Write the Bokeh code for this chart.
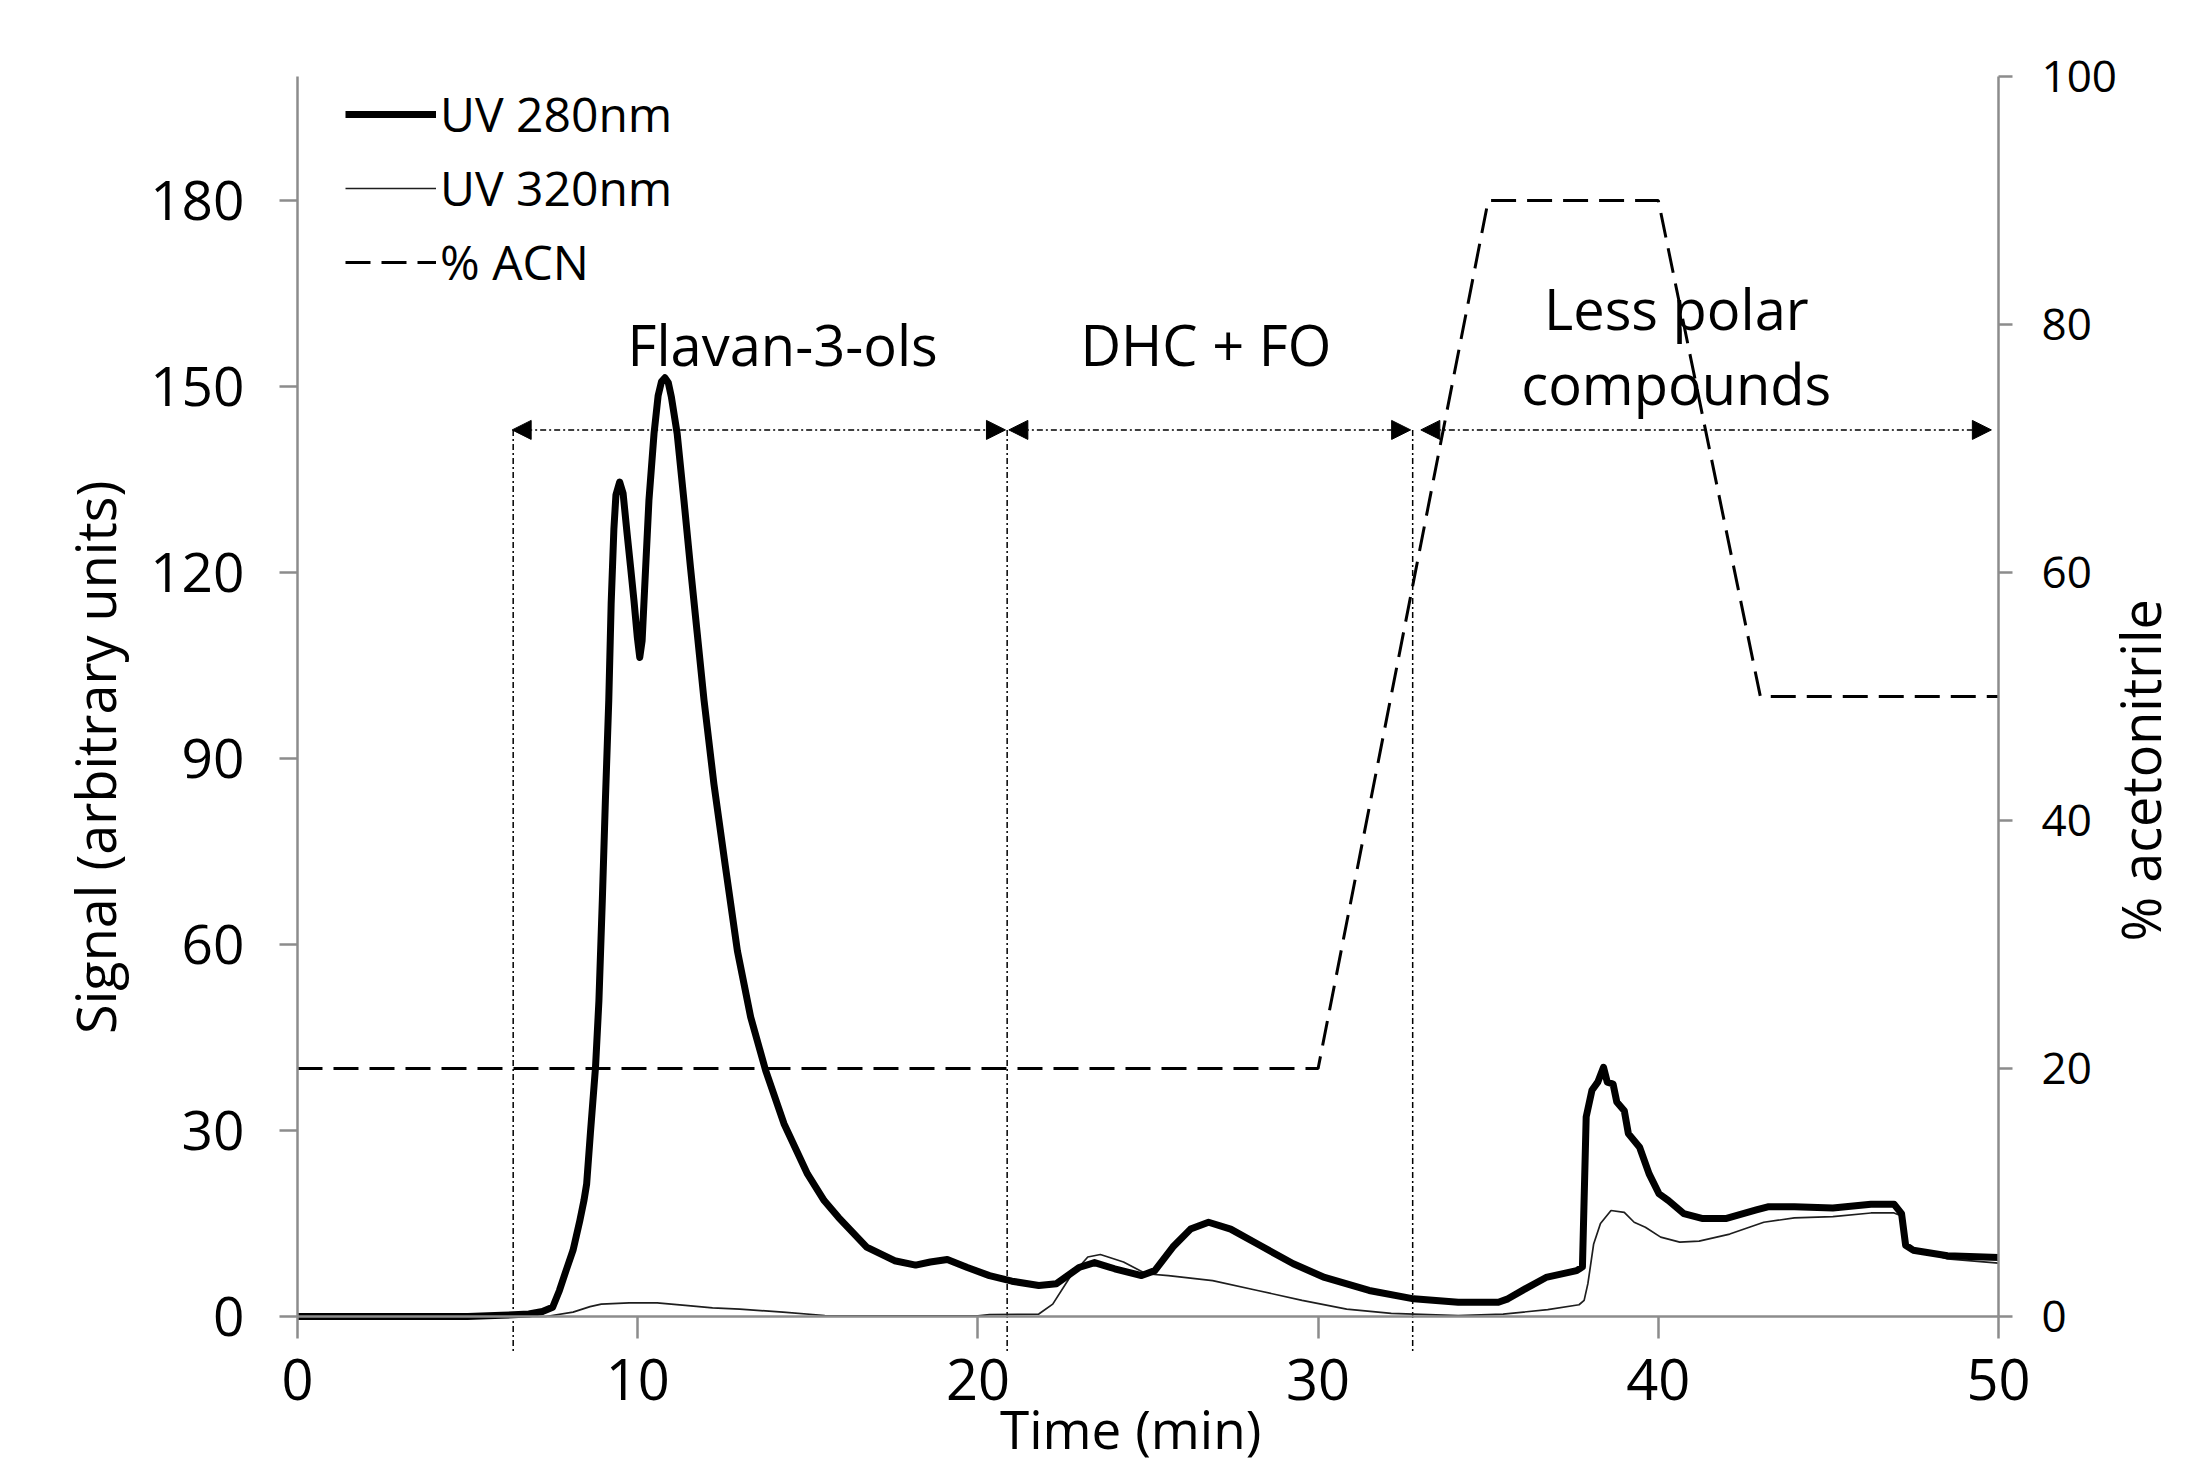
import math
from bokeh.plotting import figure
from bokeh.models import (Range1d, LinearAxis, FixedTicker, Label, Legend,
                          LegendItem, Arrow, NormalHead)
from bokeh.embed import file_html
from bokeh.resources import INLINE

# ---------------- data ----------------
t_280 = [0.0, 5.0, 6.0, 6.8, 7.2, 7.5, 7.7, 7.9, 8.1, 8.3, 8.42, 8.5, 8.61, 8.76, 8.86,
         8.96, 9.05, 9.15, 9.22, 9.30, 9.36, 9.47, 9.57, 9.69, 9.79, 9.89, 9.99, 10.06,
         10.13, 10.2, 10.33, 10.48, 10.6, 10.7, 10.8, 10.9, 10.99, 11.16, 11.36, 11.55,
         11.75, 11.95, 12.24, 12.58, 12.93, 13.32, 13.76, 14.3, 14.99, 15.48, 15.9,
         16.73, 17.55, 18.17, 18.6, 19.1, 19.69, 20.34, 21.0, 21.79, 22.31, 22.97,
         23.43, 24.02, 24.81, 25.2, 25.73, 26.25, 26.78, 27.43, 28.22, 29.27, 30.19,
         31.5, 32.81, 34.12, 35.3, 35.58, 36.1, 36.7, 37.6, 37.77, 37.88, 38.05, 38.22,
         38.39, 38.5, 38.67, 38.78, 39.0, 39.12, 39.45, 39.73, 40.02, 40.3, 40.75,
         41.31, 41.98, 42.88, 43.22, 44.0, 45.13, 46.25, 46.93, 47.15, 47.27, 47.49,
         48.5, 50.0]
uv_280 = [0.0, 0.0, 0.2, 0.4, 0.8, 1.5, 4.2, 7.5, 10.7, 15.5, 18.7, 21.4, 29.6, 40.2, 50.9,
          67.1, 83.2, 99.4, 115.0, 127.0, 132.5, 134.6, 132.8, 126.2, 120.9, 115.5, 109.5,
          106.3, 109.0, 117.0, 131.6, 142.4, 148.5, 150.8, 151.4, 150.6, 148.3, 142.4,
          131.6, 120.9, 110.2, 99.4, 85.9, 72.5, 59.0, 48.3, 39.7, 31.1, 23.0, 18.7,
          16.0, 11.2, 9.0, 8.3, 8.8, 9.2, 7.9, 6.6, 5.7, 5.0, 5.3, 7.9,
          8.7, 7.7, 6.6, 7.4, 11.2, 14.1, 15.2, 14.1, 11.7, 8.5, 6.3,
          4.2, 2.85, 2.3, 2.3, 2.85, 4.5, 6.3, 7.4, 8.0, 32.2, 36.5, 37.8,
          40.2, 37.8, 37.5, 34.6, 33.2, 29.5, 27.3, 23.0, 19.8, 18.7, 16.6,
          15.8, 15.8, 17.2, 17.7, 17.7, 17.5, 18.1, 18.1, 16.6, 11.5, 10.7,
          9.8, 9.5]

t_320 = [0.0, 7.3, 8.1, 8.6, 8.93, 9.75, 10.57, 11.4, 12.2, 13.0, 14.27, 15.5, 20.0,
         20.34, 21.79, 22.2, 22.7, 23.23, 23.6, 24.28, 24.94, 25.6, 26.9, 28.22, 29.53,
         30.84, 32.15, 34.12, 35.44, 36.75, 37.67, 37.82, 37.93, 38.1, 38.3, 38.61,
         39.0, 39.29, 39.62, 40.07, 40.63, 41.2, 42.1, 43.1, 44.0, 45.13, 46.25, 46.93,
         47.15, 47.3, 48.5, 50.0]
uv_320 = [0.0, 0.0, 0.7, 1.6, 2.0, 2.2, 2.2, 1.8, 1.4, 1.2, 0.7, 0.16, 0.1,
          0.3, 0.4, 2.0, 6.3, 9.6, 10.0, 8.8, 6.9, 6.6, 5.8, 4.2, 2.6,
          1.2, 0.5, 0.15, 0.4, 1.1, 1.9, 2.6, 5.3, 11.7, 15.0, 17.1,
          16.8, 15.2, 14.4, 12.8, 12.0, 12.15, 13.3, 15.2, 15.9, 16.1, 16.7, 16.7,
          16.2, 11.3, 9.3, 8.6]

acn_time = [0, 30, 35, 40, 43, 50]
acn_pct = [20, 20, 90, 90, 50, 50]

x_ticks = [0, 10, 20, 30, 40, 50]
y_ticks = [0, 30, 60, 90, 120, 150, 180]
acn_ticks = [0, 20, 40, 60, 80, 100]

# fraction regions (annotation arrows)
region_lines = [6.34, 20.86, 32.78]
region_line_bottom = -6
arrow_starts = [6.31, 20.91, 33.02]
arrow_ends = [20.81, 32.72, 49.79]
arrow_level = 143
region_names = ["Flavan-3-ols", "DHC + FO"]
region_name_x = [14.26, 26.7]
region_name_y = [156.8, 156.8]
less_polar_lines = ["Less polar", "compounds"]
less_polar_x = 40.53
less_polar_y = [162.6, 150.6]

X_AXIS = (0, 50)
Y_AXIS = (0, 200)
ACN_AXIS = (0, 100)
# visible window (axes are drawn at fixed data locations inside it)
X_VIEW = (-8.73, 55.673)
Y_VIEW = (-24.03, 212.26)
ACN_VIEW = (-12.015, 106.13)

FONT = "Open Sans"
GRAY = "#8c8c8c"

p = figure(width=2191, height=1465, x_range=Range1d(*X_VIEW), y_range=Range1d(*Y_VIEW),
           output_backend="svg", toolbar_location=None,
           min_border_left=0, min_border_right=0, min_border_top=0, min_border_bottom=0)
p.extra_y_ranges = {"acn": Range1d(*ACN_VIEW)}
p.outline_line_color = None
p.xgrid.visible = False
p.ygrid.visible = False
p.background_fill_color = "white"
p.border_fill_color = "white"

# bottom axis (time), drawn at signal = 0
xa = p.xaxis[0]
xa.fixed_location = 0
xa.bounds = X_AXIS
xa.ticker = FixedTicker(ticks=x_ticks)
xa.axis_line_color = GRAY
xa.axis_line_width = 2.5
xa.major_tick_in = 0
xa.major_tick_out = 22
xa.major_tick_line_color = GRAY
xa.major_tick_line_width = 2.5
xa.minor_tick_line_color = None
xa.major_label_text_font = FONT
xa.major_label_text_font_size = "56px"
xa.major_label_text_color = "black"
xa.major_label_standoff = 20

# left axis (signal), drawn at time = 0
ya = p.yaxis[0]
ya.fixed_location = X_AXIS[0]
ya.ticker = FixedTicker(ticks=y_ticks)
ya.bounds = Y_AXIS
ya.axis_line_color = GRAY
ya.axis_line_width = 2.5
ya.major_tick_in = 0
ya.major_tick_out = 18
ya.major_tick_line_color = GRAY
ya.major_tick_line_width = 2.5
ya.minor_tick_line_color = None
ya.major_label_text_font = FONT
ya.major_label_text_font_size = "55px"
ya.major_label_text_color = "black"
ya.major_label_standoff = 35

# right axis (% acetonitrile), drawn at time = 50
ra = LinearAxis(y_range_name="acn", ticker=FixedTicker(ticks=acn_ticks), bounds=ACN_AXIS,
                fixed_location=X_AXIS[1])
ra.axis_line_color = GRAY
ra.axis_line_width = 2.5
ra.major_tick_in = 0
ra.major_tick_out = 14
ra.major_tick_line_color = GRAY
ra.major_tick_line_width = 2.5
ra.minor_tick_line_color = None
ra.major_label_text_font = FONT
ra.major_label_text_font_size = "44px"
ra.major_label_text_color = "black"
ra.major_label_standoff = 29
p.add_layout(ra, "right")

# region separators
p.segment(x0=region_lines, x1=region_lines, y0=[arrow_level] * len(region_lines),
          y1=[region_line_bottom] * len(region_lines), line_color="black", line_width=1.5,
          line_dash="6 3 2 3")
for xs, xe in zip(arrow_starts, arrow_ends):
    p.add_layout(Arrow(
        start=NormalHead(size=19, fill_color="black", line_color="black", line_width=1),
        end=NormalHead(size=19, fill_color="black", line_color="black", line_width=1),
        x_start=xs, y_start=arrow_level, x_end=xe, y_end=arrow_level,
        line_color="black", line_width=1.5, line_dash="6 3 2 3"))

# series
r_acn = p.line(acn_time, acn_pct, y_range_name="acn", line_color="black",
               line_width=3, line_dash="25 11")
r320 = p.line(t_320, uv_320, line_color="#1e1e1e", line_width=1.7)
r280 = p.line(t_280, uv_280, line_color="black", line_width=7, line_join="round")

legend = Legend(items=[LegendItem(label="UV 280nm", renderers=[r280]),
                       LegendItem(label="UV 320nm", renderers=[r320]),
                       LegendItem(label="% ACN", renderers=[r_acn])],
                location=(345, 1171), orientation="vertical")
legend.label_text_font = FONT
legend.label_text_font_size = "48px"
legend.label_text_color = "black"
legend.glyph_width = 91
legend.glyph_height = 40
legend.label_height = 40
legend.spacing = 9
legend.padding = 0
legend.margin = 0
legend.label_standoff = 4
legend.border_line_alpha = 0
legend.background_fill_alpha = 0
p.add_layout(legend)

# region names
for name, x, y in zip(region_names, region_name_x, region_name_y):
    p.add_layout(Label(x=x, y=y, text=name, text_align="center",
                       text_baseline="middle", text_font=FONT,
                       text_font_size="56px", text_color="black"))
for line, y in zip(less_polar_lines, less_polar_y):
    p.add_layout(Label(x=less_polar_x, y=y, text=line, text_align="center",
                       text_baseline="middle", text_font=FONT,
                       text_font_size="56px", text_color="black"))

# axis titles
p.add_layout(Label(x=-5.94, y=90.2, text="Signal (arbitrary units)", angle=math.pi / 2,
                   text_align="center", text_baseline="middle", text_font=FONT,
                   text_font_size="54px", text_color="black"))
p.add_layout(Label(x=54.17, y=88.1, text="% acetonitrile", angle=math.pi / 2,
                   text_align="center", text_baseline="middle", text_font=FONT,
                   text_font_size="54px", text_color="black"))
p.add_layout(Label(x=24.49, y=-18.0, text="Time (min)", text_align="center",
                   text_baseline="middle", text_font=FONT,
                   text_font_size="53px", text_color="black"))

open("out.html", "w").write(file_html(p, INLINE))
